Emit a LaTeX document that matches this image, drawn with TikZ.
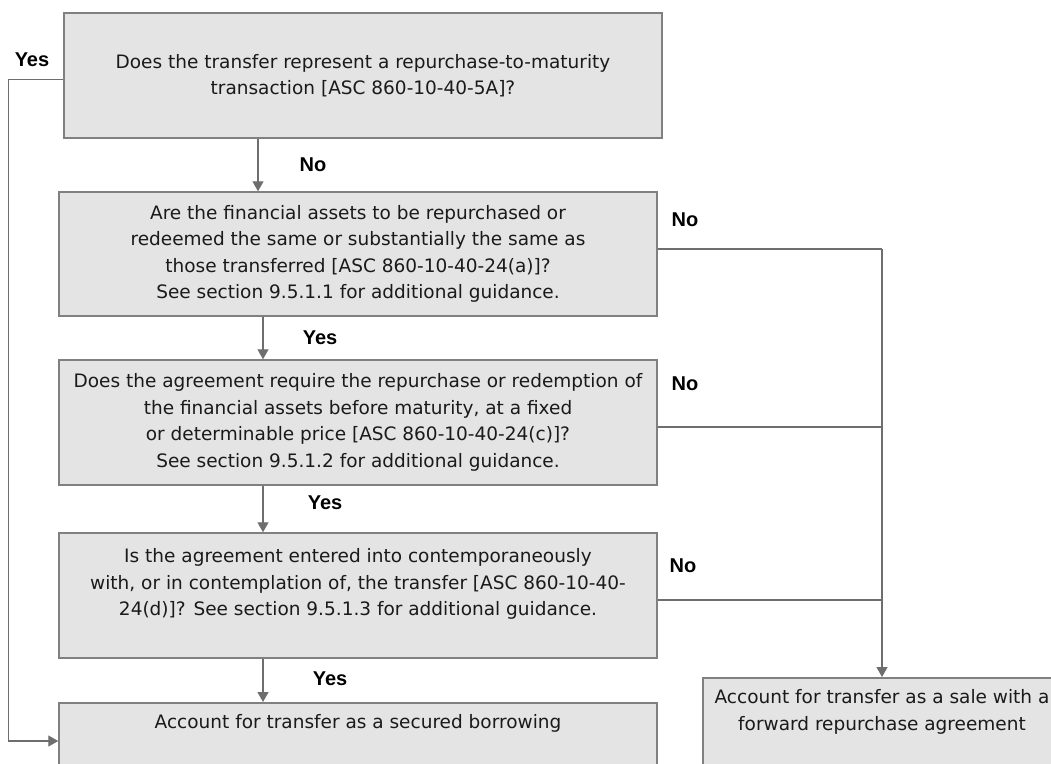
\documentclass[tikz,border=0pt]{standalone}
\usepackage{fontspec}
\setmainfont{DejaVu Sans}
\newfontfamily\lblfont{Liberation Sans}
\usetikzlibrary{arrows.meta}
\definecolor{boxfill}{HTML}{E4E4E4}
\definecolor{boxline}{HTML}{808080}
\definecolor{arrline}{HTML}{6E6E6E}
\definecolor{txt}{HTML}{1A1A1A}

\begin{document}
\begin{tikzpicture}[x=1pt, y=-1pt,
% common options for the question boxes:
box/.style = {draw=boxline, line width=1.5pt, fill=boxfill, align=center, text=txt,
            minimum width=598pt, minimum height=125pt, inner sep=0,
            font=\fontsize{18.5}{26.5}\selectfont},
% boxes at the bottom, cut off by the page:
endbox/.style = {box, anchor=north, minimum height=0pt, inner ysep=12pt, text depth=86pt},
% answer labels:
ans/.style = {font=\lblfont\bfseries\fontsize{20}{22}\selectfont},
arr/.style = {draw=arrline, line width=1.3pt, -{Triangle[length=10pt,width=11pt]}},
lin/.style = {draw=arrline, line width=1.3pt}]
\useasboundingbox (0,0) rectangle (1051,763);

\node[box] (q1) at (363,75.5) {Does the transfer represent a repurchase-to-maturity\\transaction [ASC 860-10-40-5A]?};
\node[box, minimum height=124pt] (q2) at (358,254) {Are the financial assets to be repurchased or\\redeemed the same or substantially the same as\\those transferred [ASC 860-10-40-24(a)]?\\See section 9.5.1.1 for additional guidance.};
\node[box] (q3) at (358,422.5) {Does the agreement require the repurchase or redemption of\\the financial assets before maturity, at a fixed\\or determinable price [ASC 860-10-40-24(c)]?\\See section 9.5.1.2 for additional guidance.};
\node[box] (q4) at (358,595.5) {Is the agreement entered into contemporaneously\\with, or in contemplation of, the transfer [ASC 860-10-40-\\24(d)]? See section 9.5.1.3 for additional guidance.\\\mbox{}};

\node[endbox] (borrow) at (358,702) {Account for transfer as a secured borrowing};
\node[endbox, minimum width=358pt] (sale) at (882,677) {Account for transfer as a sale with a\\forward repurchase agreement};

\node[ans] (y0) at (32,60) {Yes};
\node[ans] (n1) at (313,165) {No};
\node[ans] (y2) at (320,338) {Yes};
\node[ans] (y3) at (325,503) {Yes};
\node[ans] (y4) at (330,679) {Yes};
\node[ans] (n2) at (685,220) {No};
\node[ans] (n3) at (685,384) {No};
\node[ans] (n4) at (683,566) {No};

% down the middle
\draw[arr] ([xshift=-105pt]q1.south) -- ([xshift=-100pt]q2.north);
\draw[arr] ([xshift=-95pt]q2.south) -- ([xshift=-95pt]q3.north);
\draw[arr] ([xshift=-95pt]q3.south) -- ([xshift=-95pt]q4.north);
\draw[arr] ([xshift=-95pt]q4.south) -- ([xshift=-95pt]borrow.north);

% left rail
\draw[arr] ([yshift=-4pt]q1.west) -- ++(-55,0) |- ([yshift=-39pt]borrow.north west);

% right rail
\draw[lin] ([yshift=5pt]q2.east) -- ([yshift=5pt]q2.east -| sale.north);
\draw[lin] ([yshift=-4.5pt]q3.east) -- ([yshift=-4.5pt]q3.east -| sale.north);
\draw[lin] ([yshift=-4.5pt]q4.east) -- ([yshift=-4.5pt]q4.east -| sale.north);
\draw[arr] ([yshift=5pt]q2.east -| sale.north) -- (sale.north);
\end{tikzpicture}
\end{document}
